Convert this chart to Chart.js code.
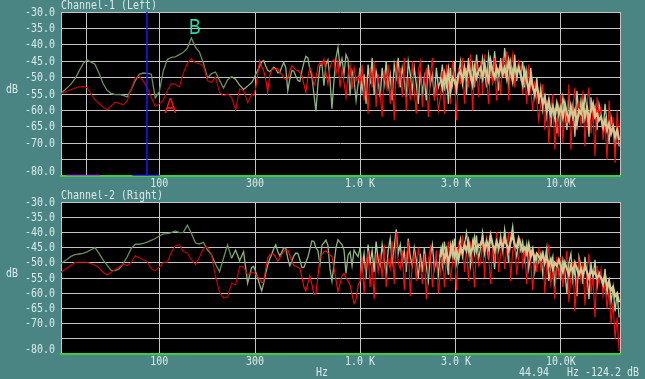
<!DOCTYPE html>
<html><head><meta charset="utf-8">
<script src="https://cdn.jsdelivr.net/npm/chart.js@4/dist/chart.umd.min.js"></script>
<style>
html,body{margin:0;padding:0;background:#4b8583;width:645px;height:379px;overflow:hidden}
canvas{position:absolute;left:0}
#c1{top:0}#c2{top:190px}
</style></head><body>
<canvas id="c1" width="645" height="190"></canvas>
<canvas id="c2" width="645" height="189"></canvas>
<script>
// ---- axis definitions ----
const X_MIN_HZ = 32.4, X_MAX_HZ = 19700;
const xTickHz = [100, 300, 1000, 3000, 10000];
const xTickLabels = ['100', '300', '1.0 K', '3.0 K', '10.0K'];
const yGridDb = [-80, -75, -70, -65, -60, -55, -50, -45, -40, -35, -30];
const yLabelDb = [-30, -35, -40, -45, -50, -55, -60, -65, -70, -80];
const cursorHz = 43.3;      // grey cursor line (Channel-1)
const markerHz = 86.8;      // blue marker line (Channel-1)
const readout = '44.94   Hz -124.2 dB';

// ---- frequency bins (Hz) ----
const freqHz = [32.4,34.67,36.31,38.02,39.81,41.69,43.65,45.71,47.86,50.12,52.48,54.95,57.54,60.26,63.10,66.07,69.18,72.44,75.86,79.43,83.18,87.10,91.20,95.50,100,104.7,109.6,114.8,120.2,125.9,131.8,138.0,144.5,151.4,158.5,166.0,173.8,182.0,190.5,199.5,208.9,218.8,229.1,239.9,251.2,263.0,275.4,288.4,
295.1,302.0,309.0,316.2,323.6,331.1,338.8,346.7,354.8,363.1,371.5,380.2,389.0,398.1,407.4,416.9,426.6,436.5,446.7,457.1,467.7,478.6,489.8,501.2,512.9,524.8,537.0,549.5,562.3,575.4,588.8,602.6,616.6,631.0,645.7,660.7,676.1,691.8,707.9,724.4,741.3,758.6,776.2,794.3,812.8,831.8,851.1,871.0,891.3,912.0,933.3,955.0,977.2,
1000,1023,1047,1072,1096,1122,1148,1175,1202,1230,1259,1288,1318,1349,1380,1413,1445,1479,1514,1549,1585,1622,1660,1698,1738,1778,1820,1862,1905,1950,1995,2042,2089,2138,2188,2239,2291,2344,2399,2455,2512,2570,2630,2692,2754,2818,2884,2951,3020,3090,3162,3236,3311,3388,3467,3548,3631,3715,3802,3890,3981,4074,4169,4266,4365,4467,4571,4677,4786,4898,5012,5129,5248,5370,5495,5623,5754,5888,6026,6166,6310,6457,6607,6761,6918,7079,7244,7413,7586,7762,7943,8128,8318,8511,8710,8913,9120,9333,9550,9772,10000,10233,10471,10715,10965,11220,11482,11749,12023,12303,12589,12883,13183,13490,13804,14125,14454,14791,15136,15488,15849,16218,16596,16982,17378,17783,18197,18621,19055,19498];

// ---- Channel-1 (Left) ----
const ch1Green = [-54.8,-53.2,-52.0,-50.4,-48.1,-45.8,-44.6,-45.3,-45.9,-48.7,-51.8,-53.9,-54.8,-55.2,-55.1,-55.4,-55.9,-53.6,-51.0,-49.0,-48.6,-48.7,-48.9,-56.2,-54.3,-48.0,-44.5,-43.8,-43.7,-43.0,-42.3,-41.0,-37.9,-40.7,-42.2,-45.6,-50.1,-48.8,-48.3,-50.8,-53.2,-50.7,-49.7,-50.5,-52.3,-53.6,-52.6,-51.5,
-50.5,-49.0,-47.8,-46.5,-45.2,-44.8,-46.5,-47.8,-48.2,-47.5,-46.8,-47.3,-48.5,-48.4,-46.8,-45.4,-47.0,-54.0,-50.5,-47.9,-48.0,-49.5,-50.8,-51.2,-48.0,-45.5,-43.5,-44.0,-47.5,-49.6,-55.0,-60.3,-52.0,-46.5,-45.8,-52.5,-46.0,-44.6,-50.5,-59.5,-51.0,-44.0,-40.8,-46.5,-44.2,-49.0,-43.0,-44.5,-55.5,-48.0,-50.5,-57.0,-52.0,
-47,-54,-49,-58,-46,-52,-44,-55,-48,-51,
-56,-47,-52,-45,-53,-49,-57,-46,-50,-44,
-53,-47,-51,-56,-45,-49,-54,-47,-52,-58,
-48,-55,-50,-57,-46,-52,-49,-56,-47,-53,
-51,-46,-54,-48,-58,-47,-52,-45,-55,-49,
-45,-52,-47,-55,-44,-50,-46,-53,-43,-49,
-50,-44,-48,-53,-43,-47,-51,-42,-49,-54,
-44,-50,-41,-47,-52,-45,-49,-43,-51,-46,
-50,-45,-53,-48,-55,-47,-52,-56,-50,-58,
-53,-60,-56,-62,-57,-65,-58,-61,-67,-59,
-63,-56,-60,-66,-55,-61,-58,-68,-54,-62,
-57,-64,-55,-60,-68,-56,-62,-59,-66,-58,
-61,-67,-58,-64,-70,-62,-66,-72,-65,-71];
const ch1Red = [-55.0,-54.1,-53.7,-53.2,-52.8,-52.7,-53.0,-55.0,-56.8,-57.9,-59.0,-59.8,-58.6,-57.5,-57.8,-58.3,-57.2,-53.5,-50.0,-49.6,-51.0,-53.2,-56.0,-58.8,-58.0,-56.8,-54.0,-51.8,-52.0,-52.8,-48.6,-45.6,-44.3,-45.5,-45.8,-46.5,-51.0,-51.5,-49.8,-54.5,-55.5,-55.0,-56.0,-60.0,-53.4,-54.0,-57.7,-55.0,
-55.5,-53.2,-49.0,-44.8,-46.5,-48.0,-50.5,-54.5,-49.5,-47.6,-47.2,-47.5,-47.2,-48.6,-49.0,-50.0,-50.5,-50.2,-48.0,-46.3,-47.0,-47.7,-47.8,-48.5,-49.2,-52.0,-54.5,-50.0,-47.0,-48.5,-52.5,-50.5,-46.5,-45.5,-46.0,-44.3,-48.5,-52.0,-47.0,-45.0,-44.5,-49.0,-45.0,-53.0,-47.5,-51.5,-56.0,-49.0,-46.0,-53.5,-47.0,-51.0,-49.5,
-52,-46,-57,-50,-61,-47,-53,-45,-59,-49,
-55,-62,-48,-53,-46,-58,-50,-63,-45,-52,
-47,-56,-44,-60,-50,-57,-45,-54,-61,-48,
-45,-59,-51,-47,-62,-50,-44,-57,-53,-60,
-56,-48,-61,-46,-52,-58,-45,-50,-63,-47,
-52,-44,-58,-47,-53,-43,-60,-49,-46,-56,
-45,-55,-43,-50,-58,-46,-52,-44,-57,-47,
-55,-44,-49,-42,-57,-47,-43,-53,-48,-45,
-47,-55,-49,-58,-46,-54,-60,-51,-57,-63,
-58,-52,-66,-57,-70,-60,-55,-72,-62,-68,
-55,-70,-58,-64,-52,-72,-59,-53,-66,-57,
-65,-54,-71,-58,-53,-67,-60,-74,-56,-62,
-59,-69,-64,-75,-57,-68,-62,-76,-60,-70];
const bandStartHz = 2512;
const ch1Band = [-50,-53,-49,-52,-48,-54,-50,-51,-53,-49,
-48,-51,-47,-50,-46,-49,-52,-47,-50,-48,
-47,-50,-46,-49,-51,-45,-48,-50,-47,-49,
-46,-49,-47,-50,-45,-48,-51,-46,-49,-47,
-49,-52,-48,-51,-54,-50,-53,-55,-52,-56,
-55,-58,-56,-60,-57,-61,-59,-62,-58,-61,
-59,-62,-58,-61,-63,-59,-62,-60,-64,-60,
-61,-58,-62,-59,-63,-60,-58,-62,-61,-63,
-62,-65,-63,-66,-64,-67,-65,-68,-66,-69];

// ---- Channel-2 (Right) ----
const ch2Green = [-50.2,-48.9,-47.9,-47.3,-47.1,-46.9,-46.4,-45.7,-45.0,-46.9,-49.0,-50.8,-52.5,-52.6,-52.0,-50.3,-48.1,-45.3,-43.9,-43.9,-43.6,-43.2,-42.6,-42.0,-41.2,-40.5,-40.4,-40.1,-39.5,-40.1,-40.0,-37.6,-40.3,-43.5,-43.8,-43.3,-45.8,-47.3,-50.4,-52.9,-48.5,-44.1,-48.5,-45.8,-49.3,-46.3,-56.7,-51.5,
-51.2,-52.9,-55.0,-57.2,-59.2,-56.8,-53.5,-50.8,-48.7,-47.2,-45.4,-44.1,-46.3,-47.7,-46.5,-45.0,-45.2,-48.5,-51.0,-49.5,-47.8,-46.8,-46.9,-49.0,-51.5,-51.5,-49.8,-48.2,-45.5,-42.8,-42.9,-45.0,-46.0,-50.5,-44.2,-43.4,-42.5,-44.3,-52.0,-56.0,-50.5,-45.0,-42.4,-43.3,-44.0,-45.8,-53.5,-47.5,-46.4,-51.0,-45.8,-47.0,-48.0,
-45,-52,-47,-55,-44,-50,-46,-53,-43,-49,
-51,-44,-49,-54,-46,-42,-50,-45,-39,-47,
-44,-50,-46,-53,-42,-48,-51,-45,-49,-55,
-47,-53,-45,-51,-56,-48,-44,-52,-49,-54,
-46,-51,-43,-49,-54,-44,-48,-42,-50,-45,
-42,-48,-44,-40,-46,-51,-43,-47,-41,-49,
-45,-40,-47,-43,-49,-41,-44,-52,-42,-46,
-41,-46,-39,-44,-50,-42,-38,-45,-48,-43,
-46,-43,-49,-44,-52,-47,-45,-53,-48,-50,
-47,-54,-49,-45,-56,-51,-48,-58,-50,-53,
-55,-49,-53,-60,-50,-47,-56,-52,-61,-48,
-51,-57,-48,-54,-62,-50,-55,-49,-58,-53,
-54,-58,-52,-60,-56,-63,-58,-66,-60,-68];
const ch2Red = [-53.1,-51.8,-50.8,-49.9,-49.8,-49.8,-49.8,-50.3,-50.8,-51.7,-53.1,-54.0,-53.1,-52.2,-51.3,-50.4,-50.9,-49.9,-47.7,-48.3,-49.0,-49.6,-52.0,-52.6,-51.5,-49.8,-49.8,-46.6,-44.4,-44.0,-46.3,-46.8,-49.0,-50.6,-48.2,-45.2,-44.8,-47.3,-54.5,-59.7,-61.6,-61.2,-56.7,-57.3,-51.2,-51.4,-54.0,-53.1,
-53.2,-53.8,-54.6,-55.4,-56.5,-56.4,-52.0,-48.4,-47.3,-47.0,-47.2,-48.2,-49.4,-48.5,-47.2,-46.2,-46.0,-45.8,-47.5,-49.4,-50.8,-51.1,-51.5,-51.8,-54.6,-57.9,-59.2,-56.8,-54.2,-57.0,-60.4,-60.2,-54.5,-48.4,-47.2,-46.3,-46.1,-46.8,-47.4,-48.0,-51.8,-55.6,-59.4,-57.0,-54.3,-53.5,-54.8,-56.0,-57.3,-60.4,-63.4,-62.0,-57.5,
-56,-48,-60,-51,-46,-58,-50,-62,-47,-53,
-47,-55,-44,-58,-49,-52,-43,-57,-40,-50,
-52,-46,-59,-48,-44,-61,-50,-47,-56,-45,
-50,-57,-47,-62,-49,-45,-58,-51,-46,-60,
-53,-45,-58,-48,-43,-56,-50,-46,-59,-44,
-47,-41,-53,-45,-56,-43,-49,-58,-44,-51,
-50,-43,-55,-41,-47,-57,-44,-49,-40,-53,
-47,-42,-52,-45,-40,-56,-46,-43,-54,-48,
-42,-51,-46,-57,-44,-50,-59,-47,-53,-45,
-52,-46,-60,-50,-44,-57,-53,-62,-48,-55,
-48,-58,-52,-46,-63,-54,-50,-66,-55,-49,
-56,-50,-64,-53,-47,-60,-55,-68,-51,-57,
-52,-61,-57,-65,-59,-70,-63,-75,-68,-79];
const ch2Band = [-48,-45,-49,-46,-50,-47,-44,-48,-46,-49,
-45,-47,-44,-46,-43,-47,-45,-42,-46,-44,
-44,-42,-46,-43,-45,-41,-44,-46,-43,-45,
-43,-45,-42,-44,-46,-43,-41,-44,-45,-42,
-44,-46,-45,-47,-44,-48,-46,-49,-47,-48,
-49,-47,-50,-48,-51,-49,-52,-50,-51,-49,
-51,-53,-50,-52,-54,-51,-53,-50,-52,-54,
-52,-54,-51,-53,-55,-52,-54,-53,-55,-54,
-55,-57,-54,-58,-56,-59,-58,-61,-60,-63];

// ---- styling ----
const BG_PLOT = '#000000', GRID = '#c4c4c4', TXT = '#d8eaea';
const MONO = '12px "DejaVu Sans Mono"', MONO_SX = 0.83;

function pts(xs, ys) { return ys.map((v, i) => ({ x: xs[i], y: v })); }
const bandHz = freqHz.filter(f => f >= bandStartHz);

function greenCol(c) { const f = c.p0.parsed.x; return f < 220 ? '#6a8e5c' : (f < 1000 ? '#8db27d' : '#a8d29a'); }
function redCol(c) { const f = c.p0.parsed.x; return f < 300 ? '#d00000' : '#ff0a0a'; }

function lineDs(data, color, order, seg, width) {
  const d = { data, borderColor: color, borderWidth: width || 1, pointRadius: 0, tension: 0, fill: false, order };
  if (seg) d.segment = { borderColor: seg };
  return d;
}

function drawText(ctx, s, x, y, align, font, color, sx) {
  ctx.save();
  ctx.font = font; ctx.fillStyle = color; ctx.textBaseline = 'middle'; ctx.textAlign = 'left';
  const w = ctx.measureText(s).width * sx;
  const x0 = align === 'right' ? x - w : (align === 'center' ? x - w / 2 : x);
  ctx.translate(x0, y); ctx.scale(sx, 1); ctx.fillText(s, 0, 0);
  ctx.restore();
}

function makeChart(canvas, cfg) {
  const plotH = cfg.plotH;
  const deco = {
    id: 'deco',
    beforeDraw(c) {
      const a = c.chartArea, ctx = c.ctx;
      ctx.save(); ctx.fillStyle = BG_PLOT; ctx.fillRect(a.left, a.top, a.right - a.left, a.bottom - a.top); ctx.restore();
    },
    afterDraw(c) {
      const a = c.chartArea, ctx = c.ctx, xs = c.scales.x, ys = c.scales.y;
      drawText(ctx, cfg.title, a.left, a.top - 6, 'left', MONO, TXT, MONO_SX);
      yLabelDb.forEach(v => {
        const py = Math.min(ys.getPixelForValue(v), a.bottom - 4.5);
        drawText(ctx, v.toFixed(1), a.left - 6, py + 0.5, 'right', MONO, TXT, MONO_SX);
      });
      drawText(ctx, 'dB', 12, (a.top + a.bottom) / 2 - 4, 'center', MONO, TXT, MONO_SX);
      xTickHz.forEach((v, i) => {
        drawText(ctx, xTickLabels[i], xs.getPixelForValue(v), a.bottom + 8, 'center', MONO, TXT, MONO_SX);
      });
      if (cfg.footer) {
        drawText(ctx, 'Hz', 322, a.bottom + 18.5, 'center', MONO, TXT, MONO_SX);
        drawText(ctx, readout, 639, a.bottom + 18.5, 'right', MONO, TXT, MONO_SX);
      }
      (cfg.notes || []).forEach(n => {
        drawText(ctx, n.t, xs.getPixelForValue(n.x), ys.getPixelForValue(n.y), 'center', '22px "Liberation Sans"', n.c, 0.8);
      });
    }
  };
  const gridHz = [X_MIN_HZ].concat(cfg.extraGrid || [], xTickHz, [X_MAX_HZ]);
  return new Chart(canvas, {
    type: 'line',
    data: { datasets: cfg.datasets },
    options: {
      responsive: false, animation: false, events: [],
      layout: { padding: { left: 61, right: 25, top: 12, bottom: canvas.height - 12 - plotH } },
      plugins: { legend: { display: false }, tooltip: { enabled: false } },
      scales: {
        x: {
          type: 'logarithmic', min: X_MIN_HZ, max: X_MAX_HZ,
          afterFit: s => { s.height = 0; },
          afterBuildTicks: s => { s.ticks = gridHz.map(v => ({ value: v })); },
          ticks: { display: false },
          grid: { color: GRID, lineWidth: 1, drawTicks: false },
          border: { color: '#3ccf3c', width: 2 }
        },
        y: {
          type: 'linear', min: -80, max: -30,
          afterFit: s => { s.width = 0; },
          afterBuildTicks: s => { s.ticks = yGridDb.map(v => ({ value: v })); },
          ticks: { display: false },
          grid: { color: c => (c.tick && c.tick.value === -80) ? 'rgba(0,0,0,0)' : GRID, lineWidth: 1, drawTicks: false },
          border: { display: false }
        }
      }
    },
    plugins: [deco]
  });
}

makeChart(document.getElementById('c1'), {
  title: 'Channel-1 (Left)', plotH: 164, extraGrid: [cursorHz],
  notes: [{ t: 'A', x: 113.4, y: -59.0, c: '#ff1010' }, { t: 'B', x: 150.2, y: -35.0, c: '#22dcae' }],
  datasets: [
    lineDs([{ x: markerHz, y: -80 }, { x: markerHz, y: -30 }], '#1a1aff', -3, null, 1.5),
    lineDs([{ x: 34.4, y: -80 }, { x: 50.9, y: -80 }], '#a050d0', -2, null, 2.5),
    lineDs([{ x: 73.4, y: -80 }, { x: 100, y: -80 }], '#3434e0', -2, null, 2.5),
    lineDs(pts(bandHz, ch1Band), '#d6c890', 0, null, 2.2),
    lineDs(pts(freqHz, ch1Red), '#ff0a0a', 1, redCol, 1.1),
    lineDs(pts(freqHz, ch1Green), '#a8d29a', 2, greenCol, 1.3)
  ]
});

makeChart(document.getElementById('c2'), {
  title: 'Channel-2 (Right)', plotH: 152, footer: true,
  datasets: [
    lineDs(pts(bandHz, ch2Band), '#d6c890', 0, null, 2.2),
    lineDs(pts(freqHz, ch2Red), '#ff0a0a', 1, redCol, 1.1),
    lineDs(pts(freqHz, ch2Green), '#a8d29a', 2, greenCol, 1.3)
  ]
});
</script>
</body></html>
